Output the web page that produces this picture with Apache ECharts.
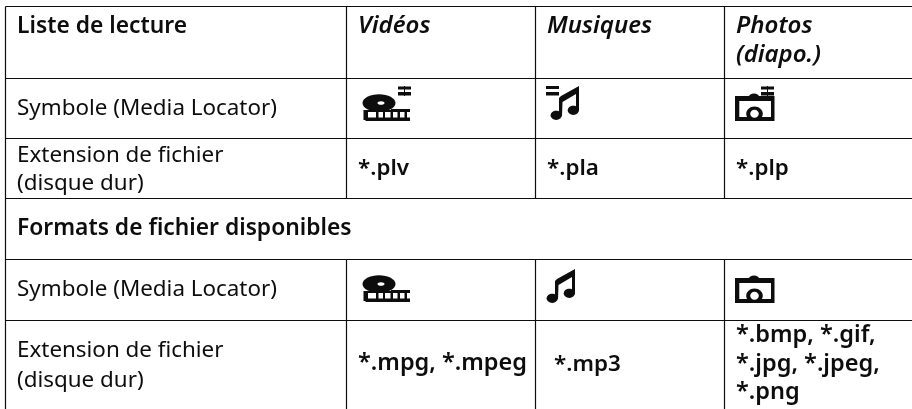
<!DOCTYPE html>
<html>
<head>
<meta charset="utf-8">
<title>Liste de lecture</title>
<script src="https://cdn.jsdelivr.net/npm/echarts@6/dist/echarts.min.js"></script>
<style>
html, body { margin: 0; padding: 0; background: #fff; }
#chart { width: 912px; height: 409px; }
</style>
</head>
<body>
<div id="chart"></div>
<script>
// table content
const headerLabels = ['Liste de lecture', 'Vidéos', 'Musiques', 'Photos', '(diapo.)'];
const symbolLabel = 'Symbole (Media Locator)';
const extensionLabels = ['Extension de fichier', '(disque dur)'];
const playlistExtensions = ['*.plv', '*.pla', '*.plp'];
const sectionTitle = 'Formats de fichier disponibles';
const formatExtensions = ['*.mpg, *.mpeg', '*.mp3', '*.bmp, *.gif,', '*.jpg, *.jpeg,', '*.png'];

// table layout, one axis unit is one pixel of the page
const colX = [5.5, 346.5, 535.5, 724.5];
const rowY = [6.5, 78.5, 138.5, 198.5, 259.5, 320.5];
const tableRight = 912;
const tableBottom = 409;
const baselineDrop = 6.5;
const FONT = '"Noto Sans", sans-serif';
const INK = '#0d0d0d';

const regular = '400 22.4px ' + FONT;
const strong = '600 22.4px ' + FONT;
const strongWide = '600 22.8px ' + FONT;
const strongWider = '600 23.5px ' + FONT;
const strongItalic = 'italic 600 24px ' + FONT;

const textItems = [
    [17, 32, headerLabels[0], strongWide],
    [358, 31.5, headerLabels[1], strongItalic],
    [547, 31.5, headerLabels[2], strongItalic],
    [736, 31.5, headerLabels[3], strongItalic],
    [736, 61, headerLabels[4], strongItalic],
    [17, 113, symbolLabel, regular],
    [17, 160, extensionLabels[0], regular],
    [17, 188, extensionLabels[1], regular],
    [358, 173, playlistExtensions[0], strong],
    [547, 173, playlistExtensions[1], strong],
    [736, 173, playlistExtensions[2], strong],
    [17, 234, sectionTitle, strongWide],
    [17, 294, symbolLabel, regular],
    [17, 355, extensionLabels[0], regular],
    [17, 385, extensionLabels[1], regular],
    [358, 369, formatExtensions[0], strongWider],
    [554, 369, formatExtensions[1], strong],
    [736, 341, formatExtensions[2], strongWider],
    [736, 370, formatExtensions[3], strongWider],
    [736, 398, formatExtensions[4], strongWider]
];

const ruleItems = [
    [colX[0], rowY[0], colX[0], tableBottom],
    [colX[0], rowY[0], tableRight, rowY[0]],
    [colX[0], rowY[1], tableRight, rowY[1]],
    [colX[0], rowY[2], tableRight, rowY[2]],
    [colX[0], rowY[3], tableRight, rowY[3]],
    [colX[0], rowY[4], tableRight, rowY[4]],
    [colX[0], rowY[5], tableRight, rowY[5]]
];
colX.slice(1).forEach(x => {
    ruleItems.push([x, rowY[0], x, rowY[3]]);
    ruleItems.push([x, rowY[4], x, tableBottom]);
});

const iconItems = [
    ['reel', 363, 94],
    ['note', 551, 87],
    ['camera', 735, 94],
    ['marksJoined', 398, 86],
    ['marks', 546, 86],
    ['marksJoined', 761, 86],
    ['reel', 363, 275],
    ['note', 547, 270],
    ['camera', 735, 276]
];

const rect = (x, y, width, height, fill) => ({ type: 'rect', shape: { x, y, width, height }, style: { fill: fill || INK } });
const oval = (cx, cy, rx, ry, fill) => ({ type: 'ellipse', shape: { cx, cy, rx, ry }, style: { fill: fill || INK } });
const poly = (points) => ({ type: 'polygon', shape: { points }, style: { fill: INK } });

const iconParts = {
    reel: [
        rect(0.5, 16, 46.5, 11),
        rect(5, 18, 8, 5.5, '#fff'),
        rect(15.5, 18, 4.5, 5.5, '#fff'),
        rect(22, 18, 5.5, 5.5, '#fff'),
        rect(30, 18, 4.5, 5.5, '#fff'),
        rect(37, 18, 4.5, 5.5, '#fff'),
        rect(44, 18, 3, 5.5, '#fff'),
        rect(0, 26, 2.5, 1, '#fff'),
        oval(16, 9, 16.5, 8.8),
        rect(28, 15, 19, 3),
        oval(18, 9, 3.5, 1.8, '#fff')
    ],
    note: [
        oval(5.2, 28.3, 5.6, 4.6),
        oval(22.3, 23.3, 5.6, 4.6),
        poly([[8, 29], [8, 11], [10, 9], [28, -1], [28, 24], [25, 24], [25, 7], [11.5, 15], [11, 29]])
    ],
    camera: [
        rect(0, 2, 39.5, 25),
        oval(19, 2.5, 5, 3),
        rect(4.3, 7, 31.7, 16, '#fff'),
        oval(19.5, 19.7, 8.3, 7.3),
        oval(19.5, 19.7, 4.3, 4, '#fff')
    ],
    marks: [
        rect(0, 0, 13, 3),
        rect(0, 6, 13, 3.5)
    ],
    marksJoined: [
        rect(0, 0.5, 13, 3),
        rect(0, 6, 13, 3.5),
        rect(6, 0, 1, 10)
    ]
};

const chart = echarts.init(document.getElementById('chart'), null, { renderer: 'canvas' });

chart.setOption({
    animation: false,
    backgroundColor: '#fff',
    grid: { left: 0, right: 0, top: 0, bottom: 0 },
    xAxis: { type: 'value', min: 0, max: tableRight, show: false },
    yAxis: { type: 'value', min: 0, max: tableBottom, inverse: true, show: false },
    series: [
        {
            type: 'custom',
            coordinateSystem: 'cartesian2d',
            silent: true,
            data: ruleItems,
            renderItem: (params, api) => {
                const from = api.coord([api.value(0), api.value(1)]);
                const to = api.coord([api.value(2), api.value(3)]);
                return {
                    type: 'line',
                    shape: { x1: from[0], y1: from[1], x2: to[0], y2: to[1] },
                    style: { stroke: INK, lineWidth: 1.2 }
                };
            }
        },
        {
            type: 'custom',
            coordinateSystem: 'cartesian2d',
            silent: true,
            data: iconItems.map(d => [d[1], d[2]]),
            encode: { x: 0, y: 1 },
            renderItem: (params, api) => {
                const at = api.coord([api.value(0), api.value(1)]);
                const name = iconItems[params.dataIndex][0];
                return { type: 'group', x: at[0], y: at[1], children: iconParts[name] };
            }
        },
        {
            type: 'custom',
            coordinateSystem: 'cartesian2d',
            silent: true,
            data: textItems.map(d => [d[0], d[1]]),
            encode: { x: 0, y: 1 },
            renderItem: (params, api) => {
                const at = api.coord([api.value(0), api.value(1) + baselineDrop]);
                const item = textItems[params.dataIndex];
                return {
                    type: 'text',
                    x: at[0],
                    y: at[1],
                    style: {
                        text: item[2],
                        font: item[3],
                        fill: INK,
                        textAlign: 'left',
                        textVerticalAlign: 'bottom'
                    }
                };
            }
        }
    ]
});
</script>
</body>
</html>
